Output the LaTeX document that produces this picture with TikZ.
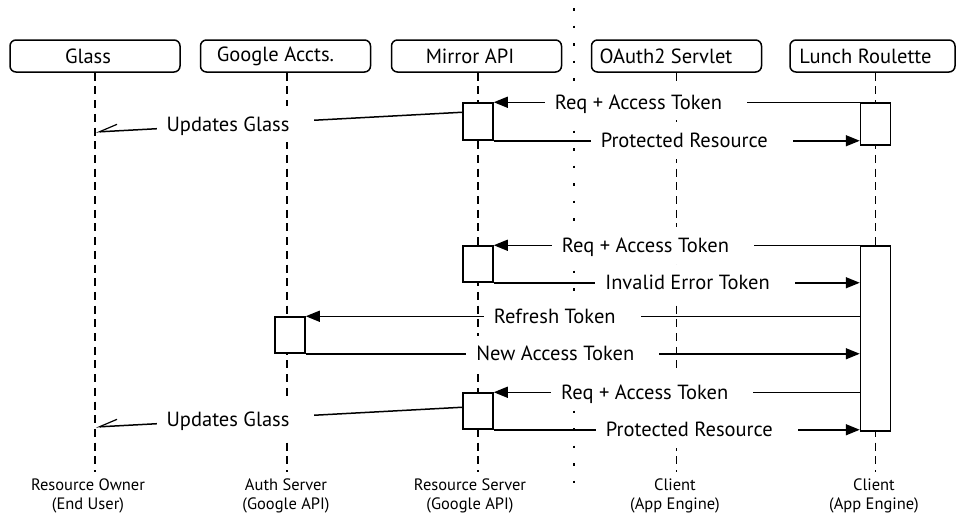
\documentclass[tikz,border=0pt]{standalone}
\usepackage{fontspec}
\setmainfont{PT Sans}
\usetikzlibrary{arrows.meta}
\newcommand{\lbltxt}[1]{\hspace*{10pt}#1\hspace*{25pt}}
\begin{document}
\begin{tikzpicture}[x=1pt,y=-1pt,
  hdr/.style={draw, line width=1.5pt, rounded corners=6pt, minimum width=170pt, minimum height=32pt, inner sep=0pt, font=\fontsize{20.5}{23}\selectfont},
  life/.style={line width=1.5pt, dash pattern=on 8pt off 5.7pt},
  sepline/.style={line width=1.8pt, dash pattern=on 2.5pt off 15pt},
  act/.style={draw, fill=white, line width=1.5pt, minimum width=30pt, inner sep=0pt},
  msg/.style={line width=1.5pt, -{Triangle[length=14pt,width=11pt]}},
  upd/.style={line width=1.5pt, -{Straight Barb[harpoon,swap,length=18pt,angle'=40,line width=1.2pt]}},
  lbl/.style={fill=white, inner sep=0pt, minimum height=36pt, text height=14pt, text depth=0pt, font=\fontsize{20.5}{23}\selectfont},
  bot/.style={align=center, inner sep=0pt, font=\fontsize{16.5}{19.5}\selectfont}
]
\useasboundingbox (0,0) rectangle (956,525);

% headers
\node[hdr] (hGlass) at (95,56) {Glass\hspace*{14pt}};
\node[hdr] (hGoogle) at (285.5,56) {Google Accts.\hspace*{20pt}};
\node[hdr] (hMirror) at (476.5,56) {Mirror API\hspace*{13pt}};
\node[hdr] (hOAuth) at (676.5,56) {OAuth2 Servlet\hspace*{21pt}};
\node[hdr, minimum width=165pt] (hLunch) at (872.5,56) {Lunch Roulette\hspace*{14pt}};

% lifeline ends
\coordinate (b1) at (95,472);
\coordinate (b2) at (287,472);
\coordinate (b3) at (478,472);
\coordinate (b4) at (676.5,472);
\coordinate (b5) at (875.5,472);
\draw[life] (b1 |- hGlass.south) -- (b1);
\draw[life] (b2 |- hGoogle.south) -- (b2);
\draw[life] (b3 |- hMirror.south) -- (b3);
\draw[life] (b4 |- hOAuth.south) -- (b4);
\draw[life] (b5 |- hLunch.south) -- (b5);

% separator
\coordinate (s1) at (574,8);
\coordinate (s2) at (574,494);
\draw[sepline] (s1) -- (s2);

% activation boxes
\node[act, minimum height=37pt] (mb1) at (478,121.5) {};
\node[act, minimum height=42pt] (lb1) at (875.5,124) {};
\node[act, minimum height=36pt] (mb2) at (478,264) {};
\node[act, minimum height=185pt] (lb2) at (875.5,338.5) {};
\node[act, minimum height=36pt] (gb) at (290,335) {};
\node[act, minimum height=36pt] (mb3) at (478,411) {};

% glass targets
\coordinate (g1) at (96,132);
\coordinate (g2) at (96,427);

% messages
\draw[msg] (lb1.north west) -- node[lbl, pos=0.584] {\lbltxt{Req + Access Token}} (mb1.north east);
\draw[msg] (mb1.south east) -- node[lbl, pos=0.541] {\lbltxt{Protected Resource}} (mb1.south east -| lb1.west);
\draw[upd] ([yshift=-10pt]mb1.north west) -- node[lbl, pos=0.619] {\lbltxt{Updates Glass}} (g1);

\draw[msg] (lb2.north west) -- node[lbl, pos=0.565] {\lbltxt{Req + Access Token}} (mb2.north east);
\draw[msg] (mb2.south east) -- node[lbl, pos=0.550] {\lbltxt{Invalid Error Token}} (mb2.south east -| lb2.west);
\draw[msg] (gb.north east -| lb2.west) -- node[lbl, pos=0.537] {\lbltxt{Refresh Token}} (gb.north east);
\draw[msg] (gb.south east) -- node[lbl, pos=0.464] {\lbltxt{New Access Token}} (gb.south east -| lb2.west);
\draw[msg] (mb3.north east -| lb2.west) -- node[lbl, pos=0.567] {\lbltxt{Req + Access Token}} (mb3.north east);
\draw[msg] (mb3.south east) -- node[lbl, pos=0.555] {\lbltxt{Protected Resource}} (mb3.south east -| lb2.west);
\draw[upd] ([yshift=-15pt]mb3.north west) -- node[lbl, pos=0.619] {\lbltxt{Updates Glass}} (g2);

% bottom labels
\node[bot] (r1) at (88,496) {Resource Owner\\(End User)};
\node[bot] (r2) at (286,496) {Auth Server\\(Google API)};
\node[bot] (r3) at (470,496) {Resource Server\\(Google API)};
\node[bot] (r4) at (675,496) {Client\\(App Engine)};
\node[bot] (r5) at (874,496) {Client\\(App Engine)};
\end{tikzpicture}
\end{document}
